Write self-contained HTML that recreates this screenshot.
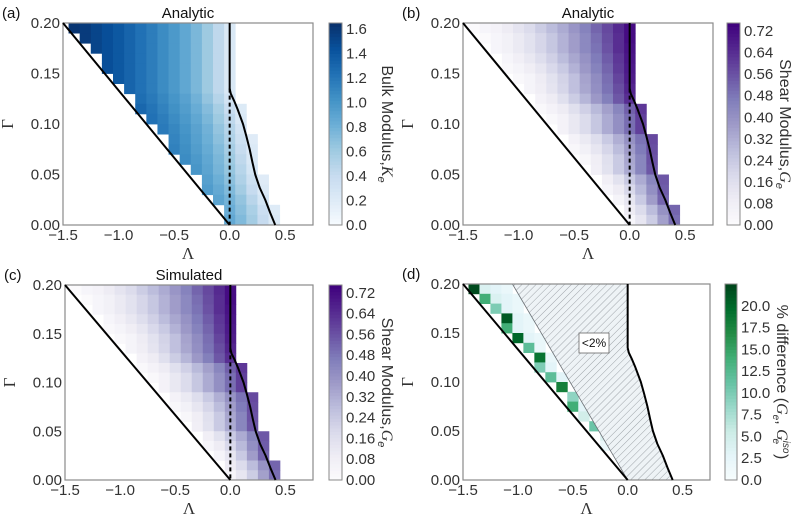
<!DOCTYPE html>
<html><head><meta charset="utf-8">
<style>
html,body{margin:0;padding:0;background:#fff;}
svg{display:block;font-family:"Liberation Sans",sans-serif;}
</style></head>
<body>
<svg id="fig" width="800" height="522" viewBox="0 0 800 522" xmlns="http://www.w3.org/2000/svg">
<defs>
<pattern id="hatch" patternUnits="userSpaceOnUse" width="5" height="5" patternTransform="rotate(45)">
<rect width="5" height="5" fill="#eef3f6"/>
<line x1="0" y1="0" x2="0" y2="5" stroke="#8a9096" stroke-width="0.8"/>
</pattern>
</defs>
</svg>
<script>
// ---- data ----
const gammaRows = [0.195,0.185,0.175,0.165,0.155,0.145,0.135,0.125,0.115,0.105,0.095,0.085,0.075,0.065,0.055,0.045,0.035,0.025,0.015,0.005];
const rowStartLambda = [-1.4,-1.3,-1.2,-1.1,-1.1,-1.0,-0.9,-0.8,-0.8,-0.7,-0.6,-0.5,-0.5,-0.4,-0.3,-0.2,-0.2,-0.1,0.0,0.0];
const bulkK = [
[1.62,1.58,1.52,1.46,1.40,1.32,1.24,1.16,1.07,0.98,0.88,0.76,0.62,0.45,0.25],
[1.58,1.52,1.46,1.40,1.32,1.24,1.16,1.07,0.98,0.88,0.76,0.62,0.45,0.25],
[1.52,1.46,1.40,1.32,1.24,1.16,1.07,0.98,0.88,0.76,0.62,0.45,0.25],
[1.46,1.40,1.32,1.24,1.16,1.07,0.98,0.88,0.76,0.62,0.45,0.25],
[1.46,1.40,1.32,1.24,1.16,1.07,0.98,0.88,0.76,0.62,0.45,0.25],
[1.40,1.32,1.24,1.16,1.07,0.98,0.88,0.76,0.62,0.45,0.25],
[1.32,1.24,1.16,1.07,0.98,0.88,0.76,0.62,0.45,0.25],
[1.26,1.19,1.10,1.01,0.92,0.80,0.66,0.50,0.31],
[1.30,1.22,1.13,1.04,0.95,0.84,0.72,0.57,0.39,0.22],
[1.24,1.16,1.07,0.98,0.88,0.76,0.62,0.45,0.25],
[1.18,1.10,1.01,0.91,0.80,0.66,0.50,0.31],
[1.12,1.03,0.93,0.82,0.69,0.53,0.35,0.20],
[1.14,1.05,0.95,0.85,0.73,0.58,0.40,0.23],
[1.07,0.98,0.88,0.76,0.62,0.45,0.25],
[1.00,0.90,0.78,0.65,0.49,0.29],
[0.93,0.82,0.69,0.53,0.35,0.20],
[0.96,0.86,0.74,0.59,0.41,0.23],
[0.90,0.79,0.66,0.48,0.29],
[0.83,0.70,0.55,0.37,0.21],
[0.87,0.74,0.59,0.41,0.23]
];
const shearAnalytic = [
[0.01,0.04,0.06,0.10,0.14,0.18,0.23,0.28,0.33,0.39,0.45,0.52,0.58,0.65,0.72],
[0.01,0.04,0.07,0.11,0.15,0.20,0.25,0.31,0.37,0.43,0.50,0.57,0.64,0.72],
[0.04,0.07,0.11,0.15,0.20,0.25,0.31,0.37,0.43,0.49,0.56,0.64,0.71],
[0.04,0.08,0.12,0.17,0.22,0.28,0.34,0.40,0.47,0.54,0.62,0.70],
[0.02,0.05,0.09,0.13,0.19,0.24,0.31,0.38,0.45,0.52,0.61,0.69],
[0.02,0.05,0.10,0.15,0.21,0.27,0.35,0.42,0.50,0.59,0.68],
[0.05,0.09,0.14,0.20,0.27,0.34,0.41,0.49,0.57,0.66],
[0.06,0.10,0.16,0.23,0.30,0.38,0.46,0.55,0.64],
[0.02,0.06,0.10,0.16,0.22,0.29,0.36,0.44,0.53,0.62],
[0.02,0.06,0.12,0.18,0.25,0.33,0.41,0.50,0.60],
[0.06,0.12,0.18,0.25,0.33,0.41,0.50,0.60],
[0.06,0.11,0.17,0.24,0.32,0.40,0.49,0.58],
[0.03,0.07,0.13,0.20,0.28,0.37,0.47,0.57],
[0.03,0.09,0.16,0.24,0.34,0.44,0.56],
[0.08,0.15,0.24,0.33,0.44,0.55],
[0.08,0.15,0.24,0.33,0.44,0.55],
[0.04,0.10,0.19,0.29,0.41,0.54],
[0.05,0.13,0.24,0.37,0.52],
[0.10,0.18,0.28,0.40,0.52],
[0.04,0.13,0.23,0.36,0.50]
];
const shearSimulated = [
[0.01,0.04,0.06,0.10,0.14,0.18,0.23,0.28,0.33,0.39,0.45,0.52,0.58,0.65,0.72],
[0.01,0.04,0.07,0.11,0.15,0.20,0.25,0.31,0.37,0.43,0.50,0.57,0.64,0.72],
[0.04,0.07,0.11,0.15,0.20,0.25,0.31,0.37,0.43,0.49,0.56,0.64,0.71],
[0.04,0.08,0.12,0.17,0.22,0.28,0.34,0.40,0.47,0.54,0.62,0.70],
[0.02,0.05,0.09,0.13,0.19,0.24,0.31,0.38,0.45,0.52,0.61,0.69],
[0.02,0.05,0.10,0.15,0.21,0.27,0.35,0.42,0.50,0.59,0.68],
[0.05,0.09,0.14,0.20,0.27,0.34,0.41,0.49,0.57,0.66],
[0.06,0.10,0.16,0.23,0.30,0.38,0.46,0.55,0.64],
[0.02,0.06,0.10,0.16,0.22,0.29,0.36,0.44,0.53,0.62],
[0.02,0.06,0.12,0.18,0.25,0.33,0.41,0.50,0.60],
[0.06,0.12,0.18,0.25,0.33,0.41,0.50,0.60],
[0.06,0.11,0.17,0.24,0.32,0.40,0.49,0.58],
[0.03,0.07,0.13,0.20,0.28,0.37,0.47,0.57],
[0.03,0.09,0.16,0.24,0.34,0.44,0.56],
[0.08,0.15,0.24,0.33,0.44,0.55],
[0.08,0.15,0.24,0.33,0.44,0.55],
[0.04,0.10,0.19,0.29,0.41,0.54],
[0.05,0.13,0.24,0.37,0.52],
[0.10,0.18,0.28,0.40,0.52],
[0.04,0.13,0.23,0.36,0.50]
];
const pctDiff = [
[22,4,3,2],[14,4,3,2],[10,3,2],[21,3,2],[14,3,2],[20,3,2],[12,2],[19,2],
[10,3],[12,3],[18],[9],[14,3],[5],[11],[4],[2],[],[],[]
];
const xTicks = [-1.5,-1.0,-0.5,0.0,0.5];
const xTickLabels = ["\u22121.5","\u22121.0","\u22120.5","0.0","0.5"];
const yTicks = [0,0.05,0.10,0.15,0.20];
const yTickLabels = ["0.00","0.05","0.10","0.15","0.20"];
const cbTicksK = [0,0.2,0.4,0.6,0.8,1.0,1.2,1.4,1.6];
const cbTicksG = [0,0.08,0.16,0.24,0.32,0.40,0.48,0.56,0.64,0.72];
const cbTicksD = [0,2.5,5,7.5,10,12.5,15,17.5,20];
// phase boundary curve (Lambda at Gamma)
const curveGamma = [0.2,0.135,0.13,0.123,0.115,0.10,0.088,0.075,0.062,0.05,0.037,0.025,0.012,0.0];
const curveLambda = [0.0,0.0,0.01,0.04,0.07,0.12,0.15,0.18,0.205,0.23,0.27,0.32,0.365,0.41];

const BLUES=["#f7fbff","#deebf7","#c6dbef","#9ecae1","#6baed6","#4292c6","#2171b5","#08519c","#08306b"];
const PURPLES=["#fcfbfd","#efedf5","#dadaeb","#bcbddc","#9e9ac8","#807dba","#6a51a3","#54278f","#3f007d"];
const BUGN=["#f7fcfd","#e5f5f9","#ccece6","#99d8c9","#66c2a4","#41ae76","#238b45","#006d2c","#00441b"];
function hex(h){return [parseInt(h.slice(1,3),16),parseInt(h.slice(3,5),16),parseInt(h.slice(5,7),16)];}
function cmap(stops,t){t=Math.max(0,Math.min(1,t));const p=t*(stops.length-1);const i=Math.min(stops.length-2,Math.floor(p));const f=p-i;const a=hex(stops[i]),b=hex(stops[i+1]);
return "rgb("+a.map((v,k)=>Math.round(v+(b[k]-v)*f)).join(",")+")";}

const NS="http://www.w3.org/2000/svg";
const svg=document.getElementById("fig");
function mk(tag,attrs,parent){const e=document.createElementNS(NS,tag);for(const k in attrs)e.setAttribute(k,attrs[k]);(parent||svg).appendChild(e);return e;}

function panel(o){
  const g=mk("g",{});
  
  
  const X=l=>o.x0+(l+1.5)/2.25*(o.x1-o.x0);
  const Y=v=>o.y1-v/0.2*(o.y1-o.y0);
  const cw=X(0.1)-X(0), ch=Y(0)-Y(0.01);
  if(o.data){
    o.data.forEach((row,r)=>{row.forEach((v,k)=>{
      const lc=rowStartLambda[r]+0.1*k;
      const c=mk("rect",{x:X(lc-0.05),y:Y(gammaRows[r]+0.005),width:cw+0.4,height:ch+0.4,fill:cmap(o.stops,v/o.vmax)},g);
      
      
    });});
  }
  if(o.hatch){
    let d="M"+X(-1.05)+","+Y(0.2)+" L"+X(0)+","+Y(0.2);
    curveGamma.forEach((gm,i)=>{d+=" L"+X(curveLambda[i])+","+Y(gm);});
    d+=" L"+X(0)+","+Y(0)+" Z";
    const h=mk("path",{d:d,fill:"url(#hatch)",stroke:"#6b7075","stroke-width":"0.8"},g);
    
    
    const bx=mk("g",{},g);
    
    
    mk("rect",{x:579,y:333,width:30,height:20,fill:"#fff",stroke:"#666","stroke-width":"0.8"},bx);
    const t=mk("text",{x:594,y:347,"font-size":"12","text-anchor":"middle",fill:"#111"},bx);t.textContent="<2%";
  }
  const fr=mk("rect",{x:o.x0,y:o.y0,width:o.x1-o.x0,height:o.y1-o.y0,fill:"none",stroke:"#8a8a8a","stroke-width":"1.2"},g);
  
  
  const l1=mk("line",{x1:X(-1.5),y1:Y(0.2),x2:X(0),y2:Y(0),stroke:"#000","stroke-width":"2"},g);
  
  
  let d2="M"+X(curveLambda[0])+","+Y(curveGamma[0]);
  curveGamma.forEach((gm,i)=>{if(i)d2+=" L"+X(curveLambda[i])+","+Y(gm);});
  const l2=mk("path",{d:d2,fill:"none",stroke:"#000","stroke-width":"2","stroke-linejoin":"round"},g);
  
  
  if(o.dashed){
    const l3=mk("line",{x1:X(0),y1:Y(0.135),x2:X(0),y2:Y(0),stroke:"#000","stroke-width":"2","stroke-dasharray":"4,3"},g);
    
    
  }
  xTicks.forEach((v,i)=>{const t=mk("text",{x:X(v),y:o.y1+15,"font-size":"15","text-anchor":"middle",fill:"#333"},g);t.textContent=xTickLabels[i];
    
    });
  yTicks.forEach((v,i)=>{const t=mk("text",{x:o.x0-3,y:Y(v)+5,"font-size":"15","text-anchor":"end",fill:"#333"},g);t.textContent=yTickLabels[i];
    
    });
  const xl=mk("text",{x:(o.x0+o.x1)/2,y:o.y1+34,"font-size":"17","text-anchor":"middle",fill:"#333","font-family":"Liberation Serif, serif"},g);xl.textContent="Λ";
  
  
  const yl=mk("text",{x:0,y:0,"font-size":"17","text-anchor":"middle",fill:"#333","font-family":"Liberation Serif, serif",transform:"translate("+(o.x0-50)+","+((o.y0+o.y1)/2)+") rotate(-90)"},g);yl.textContent="Γ";
  
  
  if(o.title){const tt=mk("text",{x:(o.x0+o.x1)/2,y:o.y0-5,"font-size":"15","text-anchor":"middle",fill:"#111"},g);tt.textContent=o.title;
    
    }
  const pl=mk("text",{x:o.x0-61,y:o.y0-5,"font-size":"15",fill:"#111"},g);pl.textContent=o.letter;
  
  
  const cb=mk("g",{},g);
  
  
  const n=60, hgt=o.y1-o.y0;
  for(let i=0;i<n;i++){mk("rect",{x:o.cx,y:o.y1-(i+1)*hgt/n,width:o.cw,height:hgt/n+0.6,fill:cmap(o.stops,(i+0.5)/n)},cb);}
  mk("rect",{x:o.cx,y:o.y0,width:o.cw,height:hgt,fill:"none",stroke:"#8a8a8a","stroke-width":"1"},cb);
  o.cbTicks.forEach((v,i)=>{const t=mk("text",{x:o.cx+o.cw+4,y:o.y1-v/o.vmax*hgt+5,"font-size":"15",fill:"#333"},cb);t.textContent=o.cbLabels[i];
    
    });
  const ct=mk("text",{x:0,y:0,"font-size":"16","text-anchor":"middle",fill:"#333",transform:"translate("+(o.cx+o.cw+40)+","+((o.y0+o.y1)/2)+") rotate(90)"},cb);
  ct.innerHTML=o.cbTitle;
  
  
}
const fmt1=a=>a.map(v=>v.toFixed(1));
const fmt2=a=>a.map(v=>v.toFixed(2));
panel({name:"panel-a",letter:"(a)",title:"Analytic",x0:63,x1:313,y0:23,y1:225,data:bulkK,stops:BLUES,vmax:1.65,dashed:true,
  cx:329,cw:13,cbTicks:cbTicksK,cbLabels:fmt1(cbTicksK),cbTitle:'Bulk Modulus,<tspan font-style="italic" font-family="Liberation Serif, serif">K</tspan><tspan font-style="italic" font-size="11" dy="4">e</tspan>'});
panel({name:"panel-b",letter:"(b)",title:"Analytic",x0:463,x1:713,y0:23,y1:225,data:shearAnalytic,stops:PURPLES,vmax:0.75,dashed:true,
  cx:727,cw:13,cbTicks:cbTicksG,cbLabels:fmt2(cbTicksG),cbTitle:'Shear Modulus,<tspan font-style="italic" font-family="Liberation Serif, serif">G</tspan><tspan font-style="italic" font-size="11" dy="4">e</tspan>'});
panel({name:"panel-c",letter:"(c)",title:"Simulated",x0:65,x1:313,y0:285,y1:480,data:shearSimulated,stops:PURPLES,vmax:0.75,dashed:true,
  cx:329,cw:13,cbTicks:cbTicksG,cbLabels:fmt2(cbTicksG),cbTitle:'Shear Modulus,<tspan font-style="italic" font-family="Liberation Serif, serif">G</tspan><tspan font-style="italic" font-size="11" dy="4">e</tspan>'});
panel({name:"panel-d",letter:"(d)",title:null,x0:463,x1:710,y0:284,y1:480,data:pctDiff,stops:BUGN,vmax:22.5,dashed:false,hatch:true,
  cx:725,cw:12,cbTicks:cbTicksD,cbLabels:fmt1(cbTicksD),cbTitle:'% difference (<tspan font-style="italic" font-family="Liberation Serif, serif">G</tspan><tspan font-style="italic" font-size="10" dy="4">e</tspan><tspan dy="-4">, </tspan><tspan font-style="italic" font-family="Liberation Serif, serif">G</tspan><tspan font-style="italic" font-size="10" dy="-6">iso</tspan><tspan font-style="italic" font-size="10" dx="-15" dy="10">e</tspan><tspan dy="-4" dx="10">)</tspan>'});
</script>
</body></html>
